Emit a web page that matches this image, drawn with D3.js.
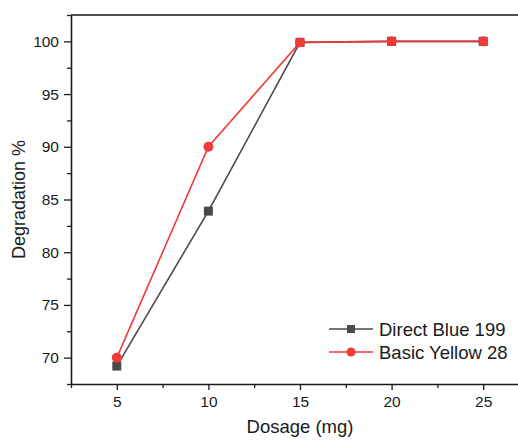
<!DOCTYPE html>
<html>
<head>
<meta charset="utf-8">
<script src="https://cdn.jsdelivr.net/npm/d3@7/dist/d3.min.js"></script>
<style>
  html, body { margin: 0; padding: 0; background: #fff; }
  svg { display: block; font-family: "Liberation Sans", Arial, sans-serif; }
</style>
</head>
<body>
<svg id="chart" width="518" height="441"></svg>
<script>
// Dosage of catalyst (mg)
const dosage = [5, 10, 15, 20, 25];
// Degradation % for each dye
const directBlue199 = [69.2, 83.9, 99.9, 100, 100];
const basicYellow28 = [70.0, 90.0, 99.9, 100, 100];

const xTicks = [5, 10, 15, 20, 25];
const xMinor = [2.5, 7.5, 12.5, 17.5, 22.5, 27.5];
const yTicks = [70, 75, 80, 85, 90, 95, 100];
const yMinor = [67.5, 72.5, 77.5, 82.5, 87.5, 92.5, 97.5, 102.5];

const seriesNames = ["Direct Blue 199", "Basic Yellow 28"];

const svg = d3.select("#chart");
const plotLeft = 71, plotTop = 15, plotRight = 529, plotBottom = 384;

const x = d3.scaleLinear().domain([2.5, 27.5]).range([plotLeft, plotRight]);
const y = d3.scaleLinear().domain([67.5, 102.5]).range([plotBottom, plotTop]);

const axisColor = "#1a1a1a";

// minor ticks
svg.append("g").attr("transform", `translate(0,${plotBottom})`)
  .call(d3.axisBottom(x).tickValues(xMinor).tickSize(4).tickFormat(""))
  .call(g => g.select(".domain").remove())
  .call(g => g.selectAll("line").attr("stroke", axisColor).attr("stroke-width", 1.3));
svg.append("g").attr("transform", `translate(${plotLeft},0)`)
  .call(d3.axisLeft(y).tickValues(yMinor).tickSize(4).tickFormat(""))
  .call(g => g.select(".domain").remove())
  .call(g => g.selectAll("line").attr("stroke", axisColor).attr("stroke-width", 1.3));

// major axes
const xAxis = svg.append("g").attr("transform", `translate(0,${plotBottom})`)
  .call(d3.axisBottom(x).tickValues(xTicks).tickSize(6).tickSizeOuter(0).tickPadding(6));
const yAxis = svg.append("g").attr("transform", `translate(${plotLeft},0)`)
  .call(d3.axisLeft(y).tickValues(yTicks).tickSize(7).tickSizeOuter(0).tickPadding(5));

[xAxis, yAxis].forEach(a => {
  a.select(".domain").attr("stroke", axisColor).attr("stroke-width", 1.6);
  a.selectAll(".tick line").attr("stroke", axisColor).attr("stroke-width", 1.3);
  a.selectAll(".tick text").attr("fill", "#1a1a1a").attr("font-size", 15.5)
    .attr("font-family", "'Liberation Sans', Arial, sans-serif");
});

// frame (top and right)
svg.append("path")
  .attr("d", `M${plotLeft},${plotTop}H${plotRight}V${plotBottom}`)
  .attr("fill", "none").attr("stroke", axisColor).attr("stroke-width", 1.6);

// axis titles
svg.append("text")
  .attr("x", (plotLeft + plotRight) / 2).attr("y", 433)
  .attr("text-anchor", "middle").attr("font-size", 18.5).attr("fill", "#1a1a1a")
  .text("Dosage (mg)");
svg.append("text")
  .attr("transform", `translate(25,${(plotTop + plotBottom) / 2}) rotate(-90)`)
  .attr("text-anchor", "middle").attr("font-size", 18).attr("fill", "#1a1a1a")
  .text("Degradation %");

const line = d3.line().x((d, i) => x(dosage[i])).y(d => y(d));

const gray = "#4a4a4a", red = "#f23a3a";

// Direct Blue 199
svg.append("path").datum(directBlue199)
  .attr("d", line).attr("fill", "none").attr("stroke", gray).attr("stroke-width", 1.6);
svg.append("g").selectAll("rect").data(directBlue199).join("rect")
  .attr("x", (d, i) => x(dosage[i]) - 4.5).attr("y", d => y(d) - 4.5)
  .attr("width", 9).attr("height", 9).attr("fill", gray);

// Basic Yellow 28
svg.append("path").datum(basicYellow28)
  .attr("d", line).attr("fill", "none").attr("stroke", red).attr("stroke-width", 1.6);
svg.append("g").selectAll("circle").data(basicYellow28).join("circle")
  .attr("cx", (d, i) => x(dosage[i])).attr("cy", d => y(d))
  .attr("r", 5).attr("fill", red);

// legend
const legend = svg.append("g");
const rows = [
  { name: seriesNames[0], color: gray, shape: "square", y: 329 },
  { name: seriesNames[1], color: red, shape: "circle", y: 352 }
];
rows.forEach(r => {
  legend.append("line").attr("x1", 329).attr("x2", 373).attr("y1", r.y).attr("y2", r.y)
    .attr("stroke", r.color).attr("stroke-width", 1.6);
  if (r.shape === "square") {
    legend.append("rect").attr("x", 351 - 4).attr("y", r.y - 4).attr("width", 8).attr("height", 8)
      .attr("fill", r.color);
  } else {
    legend.append("circle").attr("cx", 351).attr("cy", r.y).attr("r", 4.5).attr("fill", r.color);
  }
  legend.append("text").attr("x", 379).attr("y", r.y + 6.5)
    .attr("font-size", 18.5).attr("fill", "#1a1a1a").text(r.name);
});
</script>
</body>
</html>
